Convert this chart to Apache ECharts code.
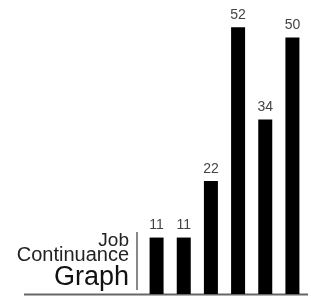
<!DOCTYPE html>
<html>
<head>
<meta charset="utf-8">
<script src="https://cdn.jsdelivr.net/npm/echarts@6/dist/echarts.min.js"></script>
<style>
  html, body { margin: 0; padding: 0; background: #fff; }
  #chart { width: 311px; height: 297px; }
</style>
</head>
<body>
<div id="chart"></div>
<script>
const categories = ['A', 'B', 'C', 'D', 'E', 'F']
const values = [11, 11, 22, 52, 34, 50]
const titleLines = ['Job', 'Continuance', 'Graph']

const chart = echarts.init(document.getElementById('chart'))

const option = {
  animation: false,
  grid: { left: 143, right: 5, top: 0, bottom: 3 },
  xAxis: {
    type: 'category',
    data: categories,
    axisLine: { show: false },
    axisTick: { show: false },
    axisLabel: { show: false }
  },
  yAxis: {
    type: 'value',
    min: 0,
    max: 57.3,
    show: false
  },
  series: [{
    type: 'bar',
    data: values,
    barWidth: 14,
    itemStyle: { color: '#000' },
    label: {
      show: true,
      position: 'top',
      distance: 5,
      color: '#444',
      fontFamily: 'Liberation Sans, Arial, sans-serif',
      fontSize: 14
    }
  }],
  graphic: [
    // baseline
    {
      type: 'line',
      shape: { x1: 24, y1: 294.5, x2: 308, y2: 294.5 },
      style: { stroke: '#666', lineWidth: 2 }
    },
    // separator next to the title
    {
      type: 'line',
      shape: { x1: 137, y1: 232, x2: 137, y2: 290 },
      style: { stroke: '#888', lineWidth: 2 }
    },
    {
      type: 'text',
      x: 129, y: 240.5,
      style: { text: titleLines[0], align: 'right', verticalAlign: 'middle', fill: '#222', font: '19px "Liberation Sans", Arial, sans-serif' }
    },
    {
      type: 'text',
      x: 129, y: 255,
      style: { text: titleLines[1], align: 'right', verticalAlign: 'middle', fill: '#222', font: '20px "Liberation Sans", Arial, sans-serif' }
    },
    {
      type: 'text',
      x: 129, y: 277.5,
      style: { text: titleLines[2], align: 'right', verticalAlign: 'middle', fill: '#111', font: '27px "Liberation Sans", Arial, sans-serif' }
    }
  ]
}

chart.setOption(option)

window.addEventListener('resize', () => {
  chart.resize()
})
</script>
</body>
</html>
